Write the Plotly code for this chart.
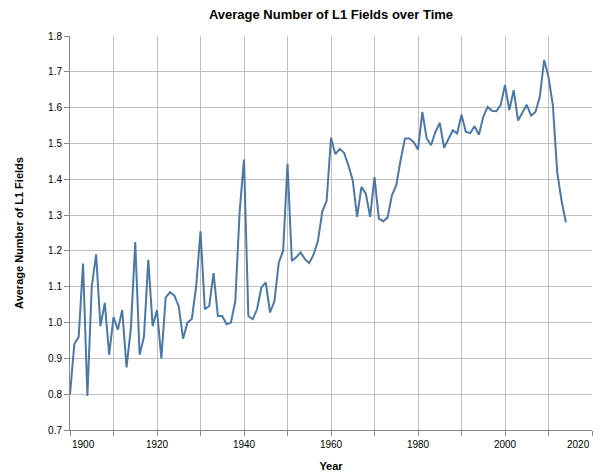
import plotly.graph_objects as go

years = list(range(1900, 2015))
avg_l1 = [
    0.80, 0.94, 0.96, 1.165, 0.795, 1.10, 1.19, 0.99, 1.055, 0.91,
    1.015, 0.98, 1.035, 0.875, 0.985, 1.225, 0.91, 0.96, 1.175, 0.99,
    1.035, 0.90, 1.07, 1.085, 1.075, 1.045, 0.955, 1.00, 1.01, 1.10,
    1.255, 1.037, 1.046, 1.138, 1.018, 1.018, 0.995, 1.00, 1.06, 1.31,
    1.455, 1.018, 1.009, 1.037, 1.098, 1.112, 1.028, 1.06, 1.168, 1.20,
    1.443, 1.172, 1.182, 1.196, 1.177, 1.166, 1.19, 1.228, 1.31, 1.34,
    1.516, 1.47, 1.485, 1.474, 1.439, 1.397, 1.295, 1.379, 1.36, 1.295,
    1.406, 1.29, 1.283, 1.293, 1.355, 1.383, 1.453, 1.514, 1.514, 1.504,
    1.483, 1.588, 1.514, 1.495, 1.532, 1.557, 1.488, 1.514, 1.537, 1.528,
    1.580, 1.532, 1.529, 1.548, 1.524, 1.574, 1.602, 1.591, 1.59, 1.607,
    1.663, 1.593, 1.649, 1.564, 1.588, 1.608, 1.578, 1.588, 1.63, 1.733,
    1.686, 1.607, 1.42, 1.34, 1.28,
]

x_tickvals = list(range(1900, 2021, 10))
x_ticktext = ["", "", "1920", "", "1940", "", "1960", "", "1980", "", "2000", "", ""]
flush_labels = {1900: "1900", 2020: "2020"}
y_tickvals = [0.7, 0.8, 0.9, 1.0, 1.1, 1.2, 1.3, 1.4, 1.5, 1.6, 1.7, 1.8]
y_ticktext = ["0.7", "0.8", "0.9", "1.0", "1.1", "1.2", "1.3", "1.4", "1.5", "1.6", "1.7", "1.8"]

FONT = "Liberation Sans, Arial, Helvetica, sans-serif"

fig = go.Figure()
fig.add_trace(go.Scatter(
    x=years, y=avg_l1, mode="lines",
    line=dict(color="#4c78a8", width=2),
    hoverinfo="x+y",
))

annotations = []
for xv, txt in flush_labels.items():
    annotations.append(dict(
        x=xv, xref="x", y=0, yref="paper", text=txt, showarrow=False,
        xanchor="left" if xv == 1900 else "right", yanchor="top", yshift=-7,
        font=dict(family=FONT, size=10, color="#000"),
    ))

fig.update_layout(
    width=600, height=474,
    margin=dict(l=70, r=8, t=36, b=44),
    paper_bgcolor="white", plot_bgcolor="white",
    showlegend=False,
    font=dict(family=FONT, size=10, color="#000"),
    title=dict(
        text="<b>Average Number of L1 Fields over Time</b>",
        x=331 / 600, xanchor="center",
        y=1 - 14 / 474, yanchor="middle",
        font=dict(family=FONT, size=13, color="#000"),
    ),
    xaxis=dict(
        range=[1900, 2020],
        tickmode="array", tickvals=x_tickvals, ticktext=x_ticktext,
        showgrid=True, gridcolor="#bfbfbf", gridwidth=1,
        zeroline=False, automargin=False,
        showline=True, linecolor="#888", linewidth=1,
        ticks="outside", ticklen=5, tickcolor="#888", tickwidth=1,
        tickfont=dict(family=FONT, size=10, color="#000"),
        title=dict(text="<b>Year</b>", font=dict(family=FONT, size=11, color="#000"), standoff=13),
    ),
    yaxis=dict(
        range=[0.7, 1.8],
        tickmode="array", tickvals=y_tickvals, ticktext=y_ticktext,
        showgrid=True, gridcolor="#bfbfbf", gridwidth=1,
        zeroline=False, automargin=False,
        showline=True, linecolor="#888", linewidth=1,
        ticks="outside", ticklen=5, tickcolor="#888", tickwidth=1,
        tickfont=dict(family=FONT, size=10, color="#000"),
        title=dict(text="<b>Average Number of L1 Fields</b>", font=dict(family=FONT, size=11, color="#000"), standoff=22),
    ),
    annotations=annotations,
)

fig.write_html("out.html", config={"displayModeBar": False},
               post_script="document.body.style.margin='0';")
